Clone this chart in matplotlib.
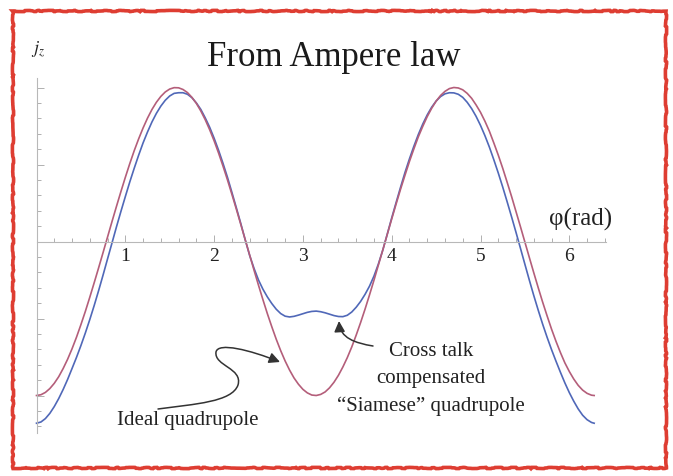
import numpy as np
import matplotlib.pyplot as plt
import matplotlib.transforms as mtransforms
from matplotlib.patches import FancyArrowPatch, Rectangle
from matplotlib.path import Path
from matplotlib.ticker import FixedLocator

plt.rcParams['font.family'] = ['Liberation Serif', 'DejaVu Serif']
plt.rcParams['mathtext.fontset'] = 'stix'

# azimuth (rad), sampled every 0.05
phi = [0.00, 0.05, 0.10, 0.15, 0.20, 0.25, 0.30, 0.35, 0.40, 0.45,
       0.50, 0.55, 0.60, 0.65, 0.70, 0.75, 0.80, 0.85, 0.90, 0.95,
       1.00, 1.05, 1.10, 1.15, 1.20, 1.25, 1.30, 1.35, 1.40, 1.45,
       1.50, 1.55, 1.60, 1.65, 1.70, 1.75, 1.80, 1.85, 1.90, 1.95,
       2.00, 2.05, 2.10, 2.15, 2.20, 2.25, 2.30, 2.35, 2.40, 2.45,
       2.50, 2.55, 2.60, 2.65, 2.70, 2.75, 2.80, 2.85, 2.90, 2.95,
       3.00, 3.05, 3.10, 3.15, 3.20, 3.25, 3.30, 3.35, 3.40, 3.45,
       3.50, 3.55, 3.60, 3.65, 3.70, 3.75, 3.80, 3.85, 3.90, 3.95,
       4.00, 4.05, 4.10, 4.15, 4.20, 4.25, 4.30, 4.35, 4.40, 4.45,
       4.50, 4.55, 4.60, 4.65, 4.70, 4.75, 4.80, 4.85, 4.90, 4.95,
       5.00, 5.05, 5.10, 5.15, 5.20, 5.25, 5.30, 5.35, 5.40, 5.45,
       5.50, 5.55, 5.60, 5.65, 5.70, 5.75, 5.80, 5.85, 5.90, 5.95,
       6.00, 6.05, 6.10, 6.15, 6.20, 6.25, 6.28]

# j_z for the ideal quadrupole
ideal = [-1.000, -0.995, -0.980, -0.955, -0.921, -0.878, -0.825, -0.765, -0.697, -0.622,
         -0.540, -0.454, -0.362, -0.267, -0.170, -0.071, 0.029, 0.129, 0.227, 0.323,
         0.416, 0.505, 0.589, 0.666, 0.737, 0.801, 0.857, 0.904, 0.942, 0.971,
         0.990, 0.999, 0.998, 0.987, 0.967, 0.936, 0.897, 0.848, 0.791, 0.726,
         0.654, 0.575, 0.490, 0.401, 0.307, 0.211, 0.112, 0.012, -0.087, -0.187,
         -0.284, -0.378, -0.469, -0.554, -0.635, -0.709, -0.776, -0.835, -0.886, -0.927,
         -0.960, -0.983, -0.997, -1.000, -0.993, -0.977, -0.950, -0.914, -0.869, -0.815,
         -0.754, -0.685, -0.608, -0.526, -0.439, -0.347, -0.252, -0.153, -0.055, 0.046,
         0.146, 0.244, 0.340, 0.431, 0.520, 0.602, 0.680, 0.748, 0.811, 0.865,
         0.911, 0.948, 0.975, 0.993, 1.000, 0.997, 0.985, 0.962, 0.930, 0.887,
         0.839, 0.781, 0.716, 0.640, 0.561, 0.476, 0.385, 0.292, 0.194, 0.096,
         -0.004, -0.104, -0.203, -0.300, -0.394, -0.483, -0.569, -0.648, -0.721, -0.788,
         -0.844, -0.893, -0.934, -0.965, -0.986, -0.998, -1.000]

# j_z for the cross-talk compensated "Siamese" quadrupole
siamese = [-1.180, -1.172, -1.150, -1.116, -1.072, -1.020, -0.961, -0.896, -0.825, -0.753,
           -0.676, -0.594, -0.507, -0.415, -0.318, -0.217, -0.113, -0.010, 0.094, 0.194,
           0.291, 0.386, 0.475, 0.560, 0.640, 0.711, 0.776, 0.832, 0.879, 0.917,
           0.945, 0.962, 0.966, 0.966, 0.956, 0.934, 0.900, 0.858, 0.803, 0.742,
           0.671, 0.593, 0.508, 0.418, 0.320, 0.220, 0.118, 0.012, -0.090, -0.175,
           -0.250, -0.310, -0.360, -0.403, -0.440, -0.468, -0.485, -0.490, -0.486, -0.478,
           -0.469, -0.460, -0.454, -0.452, -0.456, -0.463, -0.472, -0.481, -0.487, -0.488,
           -0.479, -0.458, -0.427, -0.389, -0.343, -0.290, -0.225, -0.146, -0.055, 0.048,
           0.153, 0.254, 0.353, 0.449, 0.537, 0.619, 0.695, 0.763, 0.822, 0.872,
           0.912, 0.941, 0.959, 0.966, 0.965, 0.956, 0.936, 0.904, 0.863, 0.813,
           0.754, 0.687, 0.613, 0.531, 0.445, 0.354, 0.258, 0.160, 0.059, -0.044,
           -0.148, -0.251, -0.351, -0.446, -0.537, -0.622, -0.702, -0.777, -0.849, -0.918,
           -0.981, -1.037, -1.087, -1.128, -1.157, -1.175, -1.180]

x_major = [1, 2, 3, 4, 5, 6]
x_labels = ['1', '2', '3', '4', '5', '6']

W, H = 673, 476
fig = plt.figure(figsize=(W / 100, H / 100), dpi=100)
fig.patch.set_facecolor('white')

# pixel coordinates (origin top-left) for frame and labels
pix = mtransforms.Affine2D().scale(1 / W, -1 / H).translate(0, 1) + fig.transFigure

# axes fill the figure; origin sits at (36.5, 241.5) px
X0, Y0, SX, SY = 36.5, 241.5, 88.8, 154.0
ax = fig.add_axes([0, 0, 1, 1])
ax.set_xlim(-X0 / SX, (W - X0) / SX)
ax.set_ylim((Y0 - H) / SY, Y0 / SY)
ax.patch.set_visible(False)

for s in ['top', 'right']:
    ax.spines[s].set_visible(False)
ax.spines['left'].set_position(('data', 0))
ax.spines['bottom'].set_position(('data', 0))
ax.spines['left'].set_bounds(-1.243, 1.062)
ax.spines['bottom'].set_bounds(0, 6.41)
for s in ['left', 'bottom']:
    ax.spines[s].set_color('#b8b8b8')
    ax.spines[s].set_linewidth(0.8)

ax.set_xticks(x_major)
ax.set_xticklabels(x_labels)
ax.xaxis.set_minor_locator(FixedLocator([round(0.2 * k, 1) for k in range(1, 33) if k % 5]))
ax.set_yticks([-1.0, -0.5, 0.5, 1.0])
ax.set_yticklabels([])
ax.yaxis.set_minor_locator(FixedLocator([round(0.1 * k, 1) for k in range(-12, 11) if k % 5]))
ax.tick_params(which='both', direction='in', color='#b0b0b0', width=0.7)
ax.tick_params(which='major', length=5)
ax.tick_params(which='minor', length=3)
ax.tick_params(axis='x', labelsize=14, pad=5, labelcolor='#222222')

ax.plot(phi, siamese, color='#5068b8', lw=1.2)
ax.plot(phi, ideal, color='#b45e7a', lw=1.2)

# titles and labels
fig.text(334, 57, 'From Ampere law', transform=pix, ha='center', va='center',
         fontsize=25, color='#1a1a1a')
fig.text(38, 50, r'$j_z$', transform=pix, ha='center', va='center', fontsize=13,
         color='#222222')
fig.text(549, 219, 'φ(rad)', transform=pix, ha='left', va='center', fontsize=18,
         color='#222222')

fig.text(188, 420, 'Ideal quadrupole', transform=pix, ha='center', va='center',
         fontsize=15, color='#222222')
for ty, line in zip([351, 379, 406], ['Cross talk', 'compensated', '“Siamese” quadrupole']):
    fig.text(431, ty, line, transform=pix, ha='center', va='center', fontsize=15,
             color='#222222')

# hand-drawn pointers
C = Path.CURVE4
ideal_path = Path([(158, 409), (195, 404), (232, 402), (238, 385),
                   (243, 368), (214, 366), (216, 352),
                   (218, 342), (250, 350), (280, 362)],
                  [Path.MOVETO, C, C, C, C, C, C, C, C, C])
cross_path = Path([(373, 346), (355, 343), (340, 338), (339, 321)],
                  [Path.MOVETO, C, C, C])
for p in [ideal_path, cross_path]:
    arr = FancyArrowPatch(path=p, transform=pix, arrowstyle='-|>', mutation_scale=16,
                          color='#333333', lw=1.1)
    fig.add_artist(arr)

# red frame with a rough brush edge
frame = Rectangle((13, 11), 653, 457, transform=pix, fill=False,
                  ec='#de3d32', lw=2.6)
frame.set_sketch_params(0.6, 60, 30)
fig.add_artist(frame)

fig.savefig('out.png', dpi=100)
